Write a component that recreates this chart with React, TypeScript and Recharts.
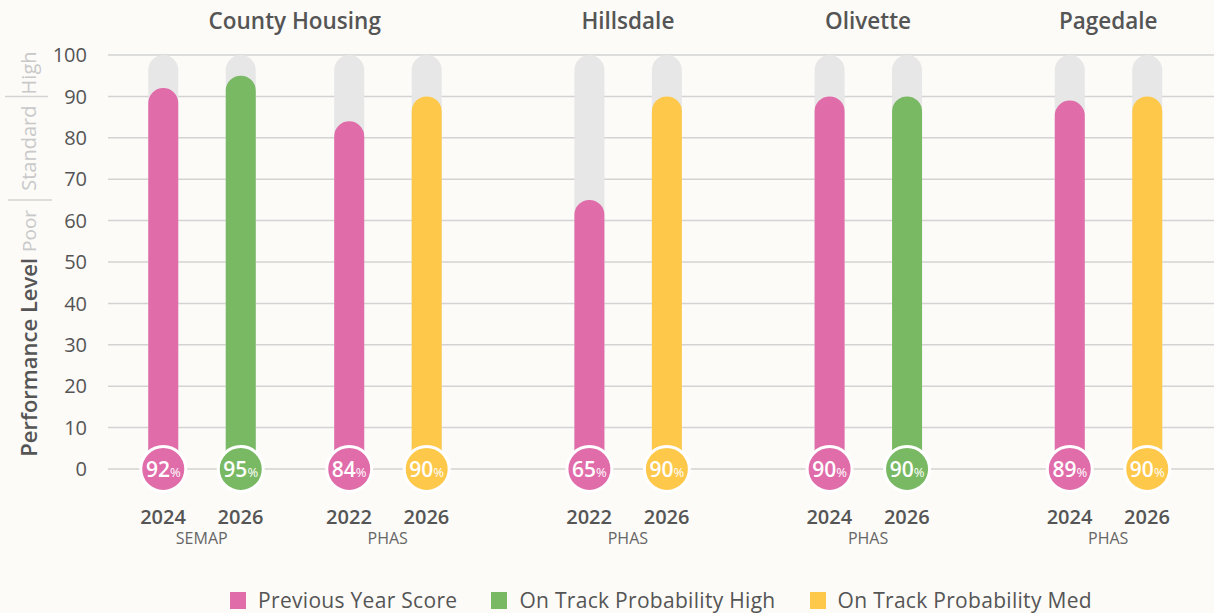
import { BarChart, Bar, XAxis, YAxis, CartesianGrid, Legend, LabelList } from 'recharts';

// Layout of the ten bars along a numeric x scale (pairs 1 apart, wider gaps between programs/groups)
const slots = [0, 1, 2.4, 3.4, 5.5, 6.5, 8.6, 9.6, 11.7, 12.7];
const years = ['2024', '2026', '2022', '2026', '2022', '2026', '2024', '2026', '2024', '2026'];
const scores = [92, 95, 84, 90, 65, 90, 90, 90, 89, 90];
const kinds = ['prev', 'high', 'prev', 'med', 'prev', 'med', 'prev', 'high', 'prev', 'med'];
const groupOfBar = [0, 0, 0, 0, 1, 1, 2, 2, 3, 3];
const groups = ['County Housing', 'Hillsdale', 'Olivette', 'Pagedale'];
const programs = ['SEMAP', 'PHAS', 'PHAS', 'PHAS', 'PHAS']; // one per pair of bars
const yTicks = [0, 10, 20, 30, 40, 50, 60, 70, 80, 90, 100];
const bands = [
  { name: 'Poor', from: 0, to: 65 },
  { name: 'Standard', from: 65, to: 90 },
  { name: 'High', from: 90, to: 100 },
];

const SERIES = [
  { key: 'prev', name: 'Previous Year Score', color: '#e06caa' },
  { key: 'high', name: 'On Track Probability High', color: '#79b964' },
  { key: 'med', name: 'On Track Probability Med', color: '#fec84b' },
];

const X_DOMAIN: [number, number] = [-0.71, 13.565];
const TEXT = '#555555';
const FONT = '"Open Sans", Lato, sans-serif';

const data = slots.map((slot, i) => ({
  slot,
  full: 100,
  prev: kinds[i] === 'prev' ? scores[i] : 0,
  high: kinds[i] === 'high' ? scores[i] : 0,
  med: kinds[i] === 'med' ? scores[i] : 0,
}));

// centre of each pair of bars -> program label position
const pairPos = programs.map((_, p) => (slots[p * 2] + slots[p * 2 + 1]) / 2);

// centre of each group -> title position
const groupPos = groups.map((_, g) => {
  const s = slots.filter((_, i) => groupOfBar[i] === g);
  return (Math.min(...s) + Math.max(...s)) / 2;
});

function ScoreBadge(props: any, color: string) {
  const vb = props.viewBox ?? props;
  const { x, y, width, height } = vb;
  const value = props.value;
  if (!value) return null;
  const cx = x + width / 2;
  const cy = y + height;
  return (
    <g>
      <circle cx={cx} cy={cy} r={22.5} fill={color} stroke="#ffffff" strokeWidth={3} />
      <text x={cx} y={cy + 7.5} textAnchor="middle" fill="#ffffff" fontFamily={FONT}>
        <tspan fontSize={21} fontWeight={600}>{value}</tspan>
        <tspan fontSize={13}>%</tspan>
      </text>
    </g>
  );
}

function SideLabel(props: any) {
  const vb = props.viewBox;
  const yOf = (v: number) => vb.y + vb.height * (1 - v / 100);
  const sepLow = yOf(bands[0].to);
  const sepHigh = yOf(bands[1].to);
  const bx = 37;
  return (
    <g fontFamily={FONT}>
      <text
        x={bx}
        y={sepLow + 58}
        transform={`rotate(-90, ${bx}, ${sepLow + 58})`}
        textAnchor="end"
        fontSize={22}
        fontWeight={600}
        fill={TEXT}
      >
        Performance Level
      </text>
      <text
        x={bx - 1}
        y={sepLow + 10}
        transform={`rotate(-90, ${bx - 1}, ${sepLow + 10})`}
        textAnchor="end"
        fontSize={19}
        fill="#c9c9c9"
      >
        {bands[0].name}
      </text>
      <line x1={8} x2={52} y1={sepLow} y2={sepLow} stroke="#d3d3d3" strokeWidth={1.5} />
      <text
        x={bx - 1}
        y={(sepLow + sepHigh) / 2}
        transform={`rotate(-90, ${bx - 1}, ${(sepLow + sepHigh) / 2})`}
        textAnchor="middle"
        fontSize={20}
        fill="#c9c9c9"
      >
        {bands[1].name}
      </text>
      <line x1={5} x2={48} y1={sepHigh} y2={sepHigh} stroke="#d3d3d3" strokeWidth={1.5} />
      <text
        x={bx - 1}
        y={sepHigh - 2}
        transform={`rotate(-90, ${bx - 1}, ${sepHigh - 2})`}
        textAnchor="start"
        fontSize={20}
        fill="#c9c9c9"
      >
        {bands[2].name}
      </text>
    </g>
  );
}

function LegendContent(props: any) {
  const payload = props.payload ?? [];
  const items = SERIES.map((s) => payload.find((p: any) => p.dataKey === s.key) ?? { value: s.name, color: s.color });
  return (
    <div
      style={{
        display: 'flex',
        justifyContent: 'center',
        alignItems: 'center',
        paddingTop: 15,
        fontFamily: FONT,
        fontSize: 21,
        letterSpacing: 0.3,
        lineHeight: '24px',
        color: TEXT,
      }}
    >
      {items.map((p: any) => (
        <div key={p.value} style={{ display: 'flex', alignItems: 'center', margin: '0 17px' }}>
          <span style={{ width: 16, height: 17, background: p.color, marginRight: 12, display: 'inline-block' }} />
          <span>{p.value}</span>
        </div>
      ))}
    </div>
  );
}

export default function App() {
  return (
    <div
      style={{
        position: 'absolute',
        left: 0,
        top: 0,
        width: 1214,
        height: 613,
        background: '#fcfbf8',
        fontFamily: FONT,
      }}
    >
      <BarChart
        width={1214}
        height={613}
        data={data}
        barGap={-30}
        margin={{ top: 0, right: 0, bottom: 0, left: 0 }}
      >
        <CartesianGrid vertical={false} stroke="#d3d3d3" strokeWidth={1.5} />
        <XAxis
          dataKey="slot"
          type="number"
          domain={X_DOMAIN}
          ticks={slots}
          interval={0}
          tickFormatter={(v: number) => years[slots.indexOf(v)] ?? ''}
          axisLine={false}
          tickLine={false}
          tickSize={0}
          tickMargin={41}
          height={60}
          tick={{ fontSize: 20, fontWeight: 600, fill: TEXT }}
        />
        <XAxis
          xAxisId="prog"
          dataKey="slot"
          type="number"
          domain={X_DOMAIN}
          ticks={pairPos}
          interval={0}
          tickFormatter={(v: number) => programs[pairPos.indexOf(v)] ?? ''}
          axisLine={false}
          tickLine={false}
          tickSize={0}
          tickMargin={4}
          height={44}
          tick={{ fontSize: 16, fill: '#666666' }}
        />
        <XAxis
          xAxisId="top"
          orientation="top"
          dataKey="slot"
          type="number"
          domain={X_DOMAIN}
          ticks={groupPos}
          interval={0}
          tickFormatter={(v: number) => groups[groupPos.indexOf(v)] ?? ''}
          axisLine={false}
          tickLine={false}
          tickSize={0}
          tickMargin={26}
          height={55}
          tick={{ fontSize: 22.5, fontWeight: 600, fill: TEXT }}
        />
        <YAxis
          domain={[0, 100]}
          ticks={yTicks}
          interval={0}
          axisLine={false}
          tickLine={false}
          tickSize={0}
          tickMargin={21}
          width={108}
          tick={{ fontSize: 20, fill: TEXT }}
          label={{ content: SideLabel }}
        />
        <Legend
          verticalAlign="bottom"
          content={LegendContent}
          wrapperStyle={{ left: 108, width: 1106, height: 40, bottom: 0 }}
        />
        <Bar
          dataKey="full"
          fill="#e7e7e7"
          barSize={30}
          radius={[15, 15, 0, 0]}
          legendType="none"
          isAnimationActive={false}
        />
        {SERIES.map((s) => (
          <Bar
            key={s.key}
            dataKey={s.key}
            name={s.name}
            stackId="score"
            fill={s.color}
            barSize={30}
            radius={[15, 15, 0, 0]}
            isAnimationActive={false}
          >
            <LabelList dataKey={s.key} content={(p: any) => ScoreBadge(p, s.color)} />
          </Bar>
        ))}
      </BarChart>
    </div>
  );
}
